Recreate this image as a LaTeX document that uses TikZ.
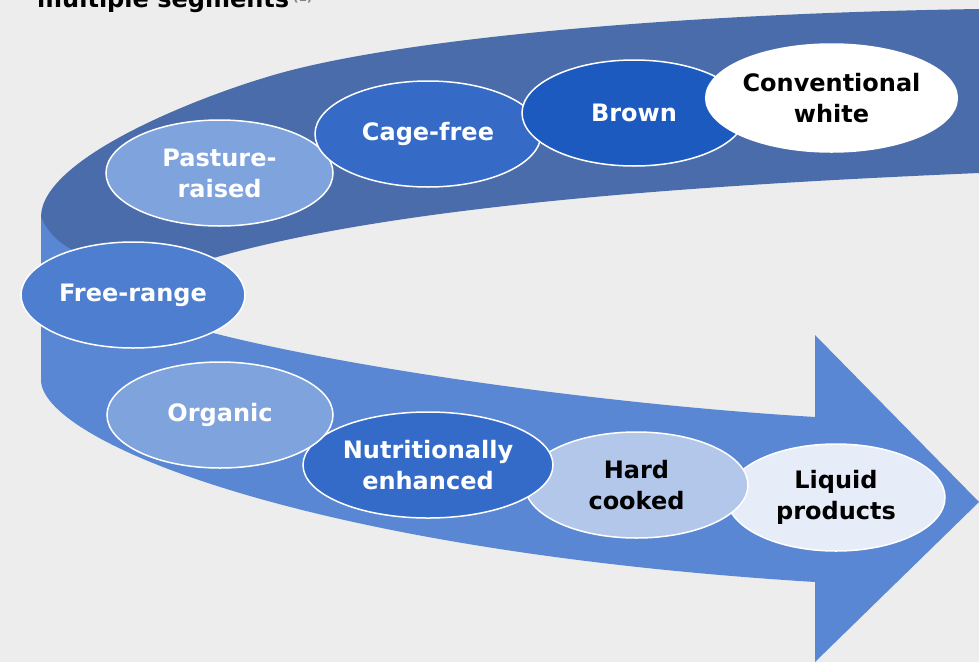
\documentclass[tikz,border=0pt]{standalone}
\usepackage{fontspec}
\setmainfont{DejaVu Sans}
\usetikzlibrary{shapes.geometric}
\definecolor{bg}{HTML}{EDEDED}
\definecolor{darkband}{HTML}{4A6CAA}
\definecolor{midband}{HTML}{5A87D3}
\definecolor{cpale}{HTML}{7FA3DC}
\definecolor{ccage}{HTML}{356AC6}
\definecolor{cbrown}{HTML}{1D5AC0}
\definecolor{cfree}{HTML}{4D7ED0}
\definecolor{cnutri}{HTML}{356BC8}
\definecolor{chard}{HTML}{B3C7EA}
\definecolor{cliquid}{HTML}{E6ECF8}
\tikzset{
  seg/.style={ellipse, draw=white, line width=1.5pt, inner sep=0pt, align=center,
    font=\bfseries\fontsize{24}{31}\selectfont, text=white},
}
\begin{document}
\begin{tikzpicture}[x=1pt,y=-1pt]
\useasboundingbox (0,0) rectangle (979,662);
\fill[bg] (0,0) rectangle (979,662);
% title (cut off at top)
\node[anchor=base west, inner sep=0pt, font=\bfseries\fontsize{24}{29}\selectfont] (title) at (37,7)
  {multiple segments\,\textcolor{gray}{\fontsize{12}{14}\selectfont\raisebox{6pt}{(1)}}};
% front (lower) band with arrow head
\fill[midband] (41,217) -- (41,380) .. controls (41,440) and (300,550) .. (815,582)
  -- (815,662) -- (979,502) -- (815,335) -- (815,417)
  .. controls (600,404) and (350,368) .. (213,333) -- (133,295) -- cycle;
% back (upper) band
\fill[darkband] (41,217) .. controls (41,160) and (190,100) .. (267,77)
  .. controls (380,42) and (650,14) .. (979,9) -- (979,173)
  .. controls (700,185) and (400,205) .. (217,257)
  .. controls (150,275) and (62,268) .. (41,217) -- cycle;
% upper row
\node[seg, fill=cpale, minimum width=227pt, minimum height=106pt] (pasture) at (219.5,173) {Pasture-\\raised};
\node[seg, fill=ccage, minimum width=226pt, minimum height=106pt] (cage) at (428,134) {Cage-free};
\node[seg, fill=cbrown, minimum width=224pt, minimum height=106pt] (brown) at (634,113) {Brown};
\node[seg, fill=white, text=black, minimum width=239pt, minimum height=108pt] (conv) at (831.5,98) {Conventional\\white};
% lower row
\node[seg, fill=cliquid, text=black, minimum width=218pt, minimum height=107pt] (liquid) at (836,497.5) {Liquid\\products};
\node[seg, fill=chard, text=black, minimum width=223pt, minimum height=106pt] (hard) at (636.5,485) {Hard\\cooked};
\node[seg, fill=cnutri, minimum width=250pt, minimum height=106pt] (nutri) at (428,465) {Nutritionally\\enhanced};
\node[seg, fill=cpale, minimum width=226pt, minimum height=106pt] (organic) at (220,415) {Organic};
% free-range on top
\node[seg, fill=cfree, minimum width=224pt, minimum height=106pt] (freerange) at (133,295) {Free-range};
\end{tikzpicture}
\end{document}
